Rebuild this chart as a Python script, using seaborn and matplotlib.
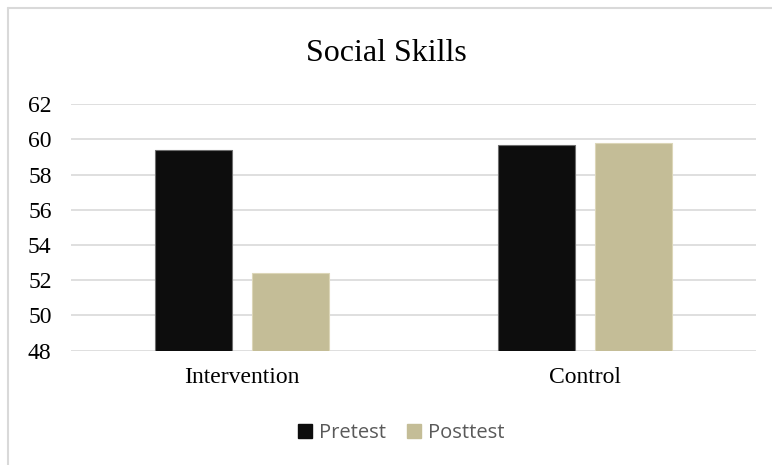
import matplotlib
matplotlib.use("Agg")
import matplotlib.pyplot as plt
import seaborn as sns
import pandas as pd
from matplotlib.lines import Line2D

categories = ["Intervention", "Control"]
series = ["Pretest", "Posttest"]
pretest = [59.4, 59.7]
posttest = [52.4, 59.8]
yticks = [48, 50, 52, 54, 56, 58, 60, 62]

colors = {"Pretest": "#0d0d0d", "Posttest": "#c4bd97"}

df = pd.DataFrame({
    "group": categories * 2,
    "test": ["Pretest"] * 2 + ["Posttest"] * 2,
    "score": pretest + posttest,
})

sns.set_theme(style="white")
plt.rcParams["font.family"] = ["Liberation Serif", "DejaVu Serif"]

fig = plt.figure(figsize=(7.72, 4.65), dpi=100)
ax = fig.add_axes([0.092, 0.246, 0.887, 0.530])

sns.barplot(data=df, x="group", y="score", hue="test", order=categories,
            hue_order=series, palette=colors, width=0.566, gap=0.205,
            saturation=1, ax=ax, legend=False, edgecolor="none", linewidth=0)

for p in ax.patches:
    fc = p.get_facecolor()
    if fc[0] < 0.2:
        p.set_edgecolor("#6e6e6e")
    else:
        p.set_edgecolor("#dcd6b8")
    p.set_linewidth(0.8)

ax.set_ylim(48, 62)
ax.set_xlim(-0.5, 1.5)
ax.set_yticks(yticks)
ax.set_yticklabels([str(t) for t in yticks])
ax.yaxis.grid(True, color="#d9d9d9", linewidth=1.2)
ax.set_axisbelow(True)
for s in ax.spines.values():
    s.set_visible(False)
ax.tick_params(axis="both", length=0, labelsize=17, colors="black")
ax.tick_params(axis="y", pad=14)
ax.tick_params(axis="x", pad=12)
ax.set_xlabel("")
ax.set_ylabel("")

fig.text(0.5, 0.885, "Social Skills", ha="center", va="center",
         fontsize=23, family=["Liberation Serif"], color="black")

handles = [Line2D([0], [0], marker="s", linestyle="none", markersize=10,
                  markerfacecolor=colors[s], markeredgecolor=colors[s]) for s in series]
leg = fig.legend(handles, series, loc="center", bbox_to_anchor=(0.519, 0.068),
                 ncol=2, frameon=False, handlelength=0.8, handletextpad=0.3,
                 columnspacing=1.0, prop={"family": "Open Sans", "size": 14.5})
for t in leg.get_texts():
    t.set_color("#595959")

fig.add_artist(Line2D([8 / 772, 8 / 772], [0, 1 - 8 / 465], transform=fig.transFigure,
                      color="#d9d9d9", linewidth=1.5))
fig.add_artist(Line2D([8 / 772, 1], [1 - 8 / 465, 1 - 8 / 465], transform=fig.transFigure,
                      color="#d9d9d9", linewidth=1.5))

fig.savefig("out.png", dpi=100, facecolor="white")
